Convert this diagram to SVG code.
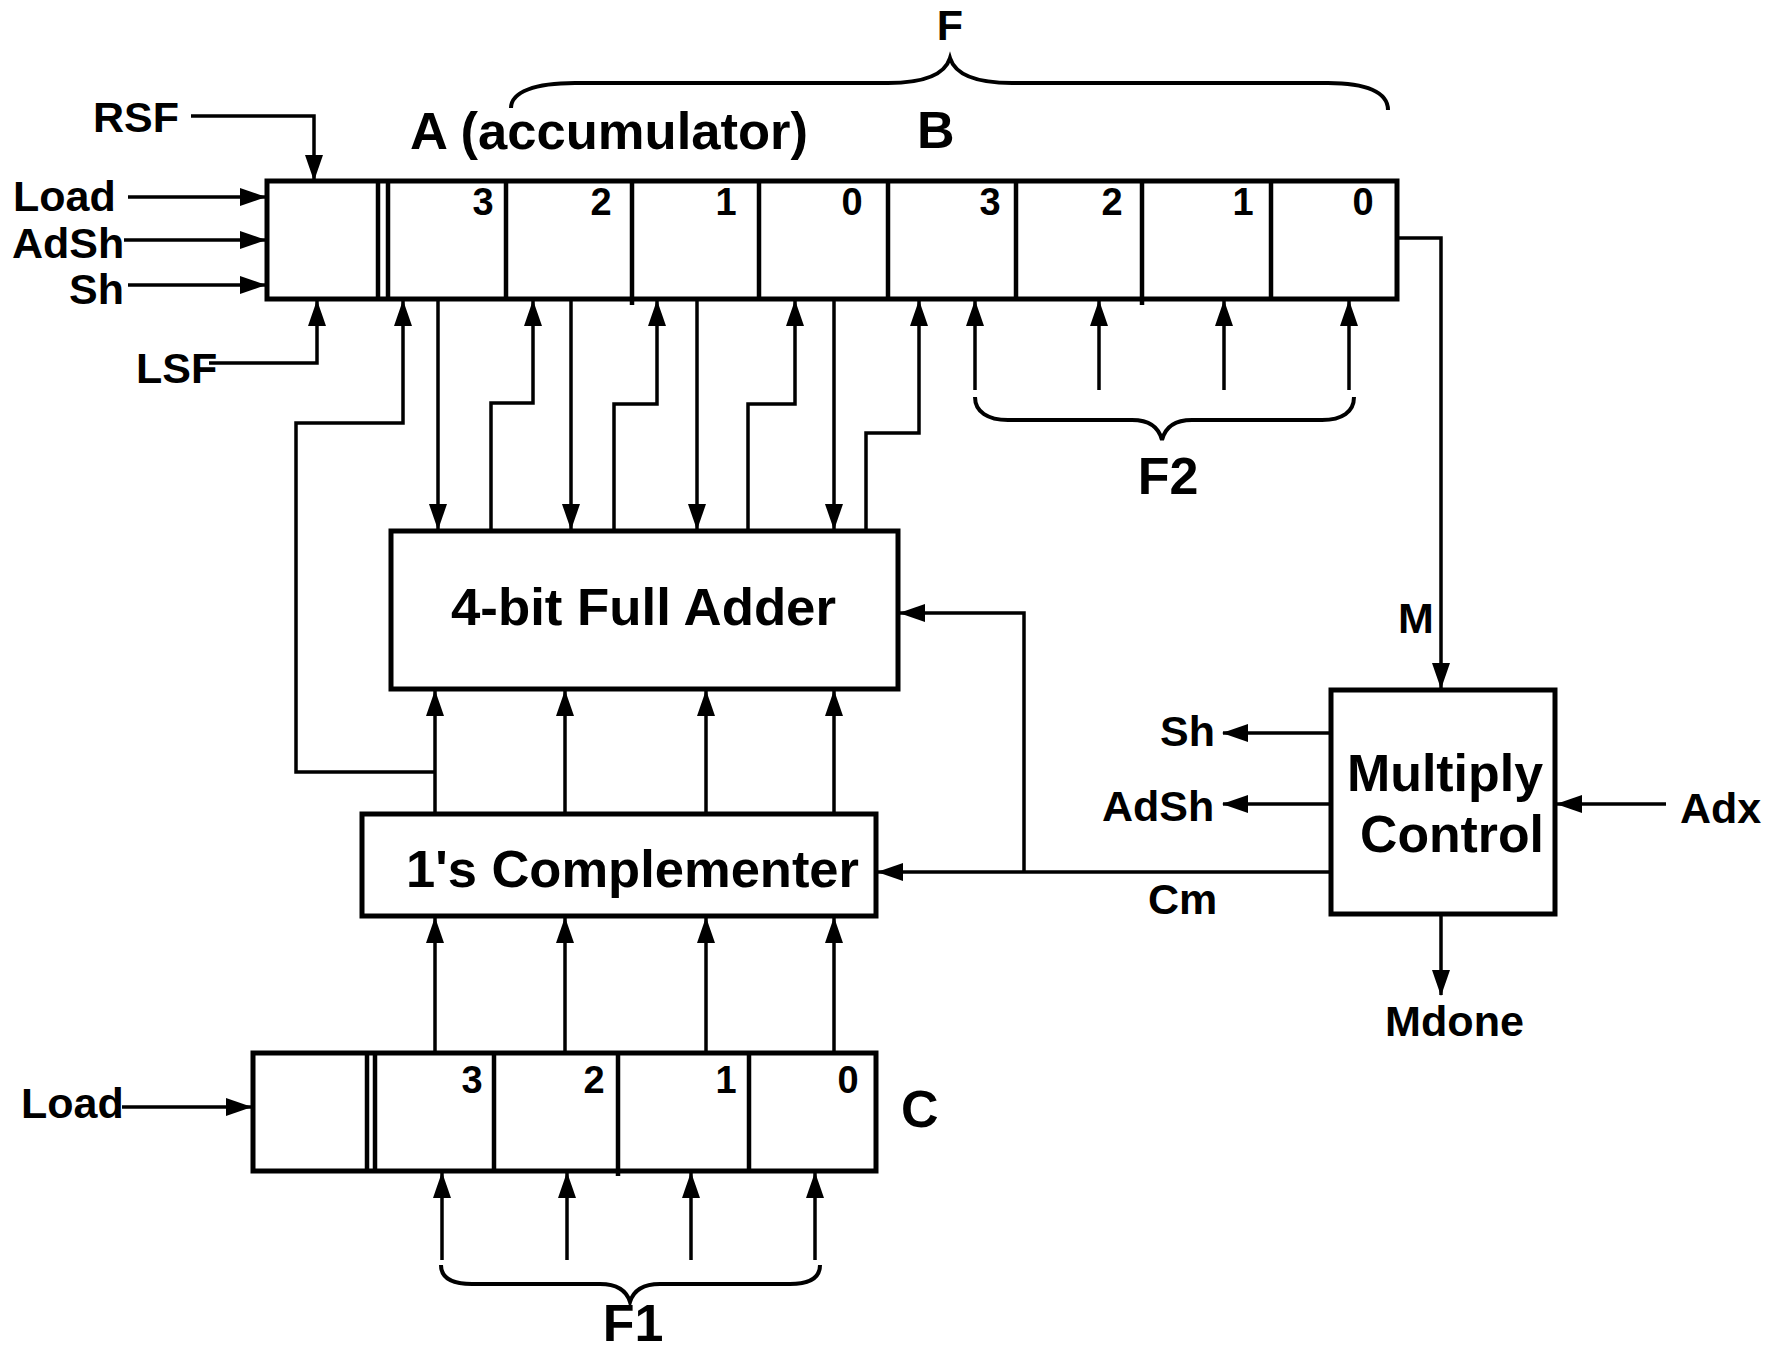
<svg xmlns="http://www.w3.org/2000/svg" width="1781" height="1353" viewBox="0 0 1781 1353">
<style>
  text { font-family: "Liberation Sans", Arial, sans-serif; font-weight: bold; fill: #000; }
  .lbl { font-size: 43px; }
  .big { font-size: 52px; }
  .dig { font-size: 38px; text-anchor: middle; }
  .box { fill: #fff; stroke: #000; stroke-width: 5; }
  .div { stroke: #000; stroke-width: 4.5; fill: none; }
  .wire { stroke: #000; stroke-width: 3.5; fill: none; }
  .arr { stroke: #000; stroke-width: 3.5; fill: none; marker-end: url(#ah); }
  .brace { stroke: #000; stroke-width: 4; fill: none; }
</style>
<defs>
  <marker id="ah" markerUnits="userSpaceOnUse" markerWidth="26" markerHeight="18" refX="25" refY="9" orient="auto">
    <path d="M0,0 L26,9 L0,18 z" fill="#000"/>
  </marker>
</defs>
<rect width="1781" height="1353" fill="#fff"/>

<g id="register-AB">
  <rect class="box" x="267" y="181" width="1130" height="118"/>
  <line class="div" x1="378" y1="181" x2="378" y2="299"/>
  <line class="div" x1="388" y1="181" x2="388" y2="299" stroke-width="3.5"/>
  <line class="div" x1="506" y1="181" x2="506" y2="299"/>
  <line class="div" x1="632" y1="181" x2="632" y2="305"/>
  <line class="div" x1="759" y1="181" x2="759" y2="299"/>
  <line class="div" x1="888" y1="181" x2="888" y2="299" stroke-width="6.5"/>
  <line class="div" x1="1016" y1="181" x2="1016" y2="299"/>
  <line class="div" x1="1142" y1="181" x2="1142" y2="305"/>
  <line class="div" x1="1271" y1="181" x2="1271" y2="299"/>
  <text class="dig" x="483" y="215">3</text>
  <text class="dig" x="601" y="215">2</text>
  <text class="dig" x="726" y="215">1</text>
  <text class="dig" x="852" y="215">0</text>
  <text class="dig" x="990" y="215">3</text>
  <text class="dig" x="1112" y="215">2</text>
  <text class="dig" x="1243" y="215">1</text>
  <text class="dig" x="1363" y="215">0</text>
  <text class="big" x="410" y="149" textLength="398" lengthAdjust="spacingAndGlyphs">A (accumulator)</text>
  <text class="big" x="917" y="148">B</text>
</g>

<g id="adder">
  <rect class="box" x="391" y="531" width="507" height="158"/>
  <text class="big" x="451" y="625" textLength="385" lengthAdjust="spacingAndGlyphs">4-bit Full Adder</text>
</g>

<g id="complementer">
  <rect class="box" x="362" y="814" width="514" height="102"/>
  <text class="big" x="406" y="887" textLength="453" lengthAdjust="spacingAndGlyphs">1's Complementer</text>
</g>

<g id="register-C">
  <rect class="box" x="253" y="1053" width="623" height="118"/>
  <line class="div" x1="367" y1="1053" x2="367" y2="1171"/>
  <line class="div" x1="375" y1="1053" x2="375" y2="1171" stroke-width="3.5"/>
  <line class="div" x1="494" y1="1053" x2="494" y2="1171"/>
  <line class="div" x1="618" y1="1053" x2="618" y2="1176"/>
  <line class="div" x1="749" y1="1053" x2="749" y2="1171"/>
  <text class="dig" x="472" y="1093">3</text>
  <text class="dig" x="594" y="1093">2</text>
  <text class="dig" x="726" y="1093">1</text>
  <text class="dig" x="848" y="1093">0</text>
  <text class="big" x="901" y="1127">C</text>
</g>

<g id="multiply-control">
  <rect class="box" x="1331" y="690" width="224" height="224"/>
  <text class="big" x="1347" y="791" textLength="196" lengthAdjust="spacingAndGlyphs">Multiply</text>
  <text class="big" x="1360" y="852" textLength="184" lengthAdjust="spacingAndGlyphs">Control</text>
</g>

<g id="labels">
  <text class="lbl" x="93" y="132">RSF</text>
  <text class="lbl" x="13" y="211">Load</text>
  <text class="lbl" x="12" y="258">AdSh</text>
  <text class="lbl" x="69" y="304">Sh</text>
  <text class="lbl" x="136" y="383">LSF</text>
  <text class="lbl" x="950" y="40" text-anchor="middle">F</text>
  <text class="big" x="1168" y="494" text-anchor="middle">F2</text>
  <text class="lbl" x="1398" y="633">M</text>
  <text class="lbl" x="1160" y="746">Sh</text>
  <text class="lbl" x="1102" y="821">AdSh</text>
  <text class="lbl" x="1680" y="823">Adx</text>
  <text class="lbl" x="1148" y="914">Cm</text>
  <text class="lbl" x="1385" y="1036" textLength="139" lengthAdjust="spacingAndGlyphs">Mdone</text>
  <text class="lbl" x="21" y="1118">Load</text>
  <text class="big" x="633" y="1341" text-anchor="middle">F1</text>
</g>

<g id="braces">
  <path class="brace" d="M511,108 C511,92 535,83 575,83 L888,83 C925,83 945,74 950,58 C955,74 975,83 1012,83 L1328,83 C1366,83 1388,92 1388,110"/>
  <path class="brace" d="M975,397 C975,412 988,420 1008,420 L1132,420 C1150,420 1159,428 1162,440 C1165,428 1174,420 1192,420 L1322,420 C1342,420 1354,412 1354,397"/>
  <path class="brace" d="M441,1265 C441,1278 452,1284 472,1284 L600,1284 C618,1284 627,1292 630,1302 C633,1292 642,1284 660,1284 L790,1284 C810,1284 820,1278 820,1265"/>
</g>

<g id="connectors">
  <path class="arr" d="M191,116 H314 V180"/>
  <path class="arr" d="M128,197 H265"/>
  <path class="arr" d="M124,240 H265"/>
  <path class="arr" d="M128,285 H265"/>
  <path class="arr" d="M209,363 H317 V301"/>
  <path class="arr" d="M435,772 H296 V423 H403 V301"/>
  <path class="arr" d="M438,300 V529"/>
  <path class="arr" d="M491,529 V403 H533 V301"/>
  <path class="arr" d="M571,300 V529"/>
  <path class="arr" d="M614,529 V404 H657 V301"/>
  <path class="arr" d="M697,300 V529"/>
  <path class="arr" d="M748,529 V404 H795 V301"/>
  <path class="arr" d="M834,300 V529"/>
  <path class="arr" d="M866,529 V433 H919 V301"/>
  <path class="arr" d="M975,390 V301"/>
  <path class="arr" d="M1099,390 V301"/>
  <path class="arr" d="M1224,390 V301"/>
  <path class="arr" d="M1349,390 V301"/>
  <path class="arr" d="M1397,238 H1441 V688"/>
  <path class="arr" d="M1024,872 V613 H900"/>
  <path class="arr" d="M435,814 V691"/>
  <path class="arr" d="M565,814 V691"/>
  <path class="arr" d="M706,814 V691"/>
  <path class="arr" d="M834,814 V691"/>
  <path class="arr" d="M435,1053 V918"/>
  <path class="arr" d="M565,1053 V918"/>
  <path class="arr" d="M706,1053 V918"/>
  <path class="arr" d="M834,1053 V918"/>
  <path class="arr" d="M1331,872 H878"/>
  <path class="arr" d="M122,1107 H251"/>
  <path class="arr" d="M442,1260 V1173"/>
  <path class="arr" d="M567,1260 V1173"/>
  <path class="arr" d="M691,1260 V1173"/>
  <path class="arr" d="M815,1260 V1173"/>
  <path class="arr" d="M1331,733 H1223"/>
  <path class="arr" d="M1331,804 H1223"/>
  <path class="arr" d="M1666,804 H1557"/>
  <path class="arr" d="M1441,914 V995"/>
</g>
</svg>
